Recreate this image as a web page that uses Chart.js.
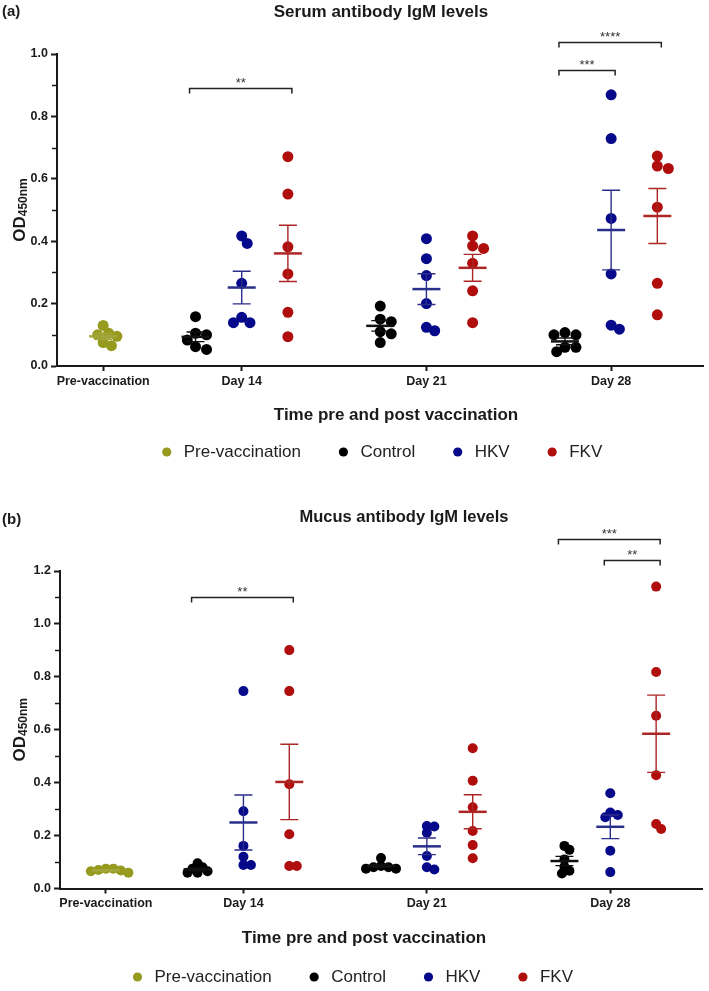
<!DOCTYPE html>
<html>
<head>
<meta charset="utf-8">
<script src="https://cdn.jsdelivr.net/npm/chart.js@4.4.1/dist/chart.umd.min.js"></script>
<style>
  html, body { margin: 0; padding: 0; background: #fff; }
  #wrap { position: relative; width: 709px; height: 991px; overflow: hidden; }
  .panel { position: absolute; left: 0; width: 709px; }
</style>
</head>
<body>
<div id="wrap">
  <div class="panel" style="top:0;height:485px"><canvas id="serum" width="709" height="485"></canvas></div>
  <div class="panel" style="top:485px;height:506px"><canvas id="mucus" width="709" height="506"></canvas></div>
</div>
<script>
var days = ['Pre-vaccination', 'Day 14', 'Day 21', 'Day 28'];
var groups = ['Pre-vaccination', 'Control', 'HKV', 'FKV'];

// serum IgM (OD450), 6 fish per group; one row per day (14, 21, 28)
var serumPre = [0.105, 0.095, 0.100, 0.130, 0.065, 0.075];
var serumControl = [
    [0.158, 0.105, 0.100, 0.083, 0.062, 0.053],
    [0.192, 0.150, 0.142, 0.110, 0.103, 0.075],
    [0.100, 0.100, 0.107, 0.060, 0.060, 0.046]
];
var serumHKV = [
    [0.393, 0.417, 0.265, 0.156, 0.139, 0.139],
    [0.408, 0.344, 0.290, 0.200, 0.113, 0.124],
    [0.869, 0.729, 0.473, 0.295, 0.118, 0.131]
];
var serumFKV = [
    [0.671, 0.551, 0.382, 0.295, 0.172, 0.094],
    [0.417, 0.385, 0.377, 0.329, 0.241, 0.139],
    [0.673, 0.641, 0.633, 0.509, 0.265, 0.164]
];

// mucus IgM (OD450)
var mucusPre = [0.070, 0.075, 0.065, 0.060, 0.075, 0.068];
var mucusControl = [
    [0.095, 0.080, 0.075, 0.060, 0.060, 0.065],
    [0.115, 0.085, 0.080, 0.075, 0.075, 0.080],
    [0.161, 0.146, 0.110, 0.082, 0.067, 0.057]
];
var mucusHKV = [
    [0.746, 0.292, 0.161, 0.120, 0.089, 0.089],
    [0.236, 0.234, 0.211, 0.123, 0.072, 0.080],
    [0.360, 0.287, 0.278, 0.269, 0.143, 0.062]
];
var mucusFKV = [
    [0.901, 0.746, 0.394, 0.205, 0.085, 0.085],
    [0.530, 0.407, 0.307, 0.217, 0.164, 0.114],
    [1.141, 0.818, 0.653, 0.428, 0.225, 0.244]
];

// significance brackets (day index, group from/to, height in OD, stars)
var serumSig = [
    {day: 1, from: 1, to: 3, y: 0.89, text: '**'},
    {day: 3, from: 1, to: 2, y: 0.95, text: '***'},
    {day: 3, from: 1, to: 3, y: 1.04, text: '****'}
];
var mucusSig = [
    {day: 1, from: 1, to: 3, y: 1.10, text: '**'},
    {day: 3, from: 2, to: 3, y: 1.24, text: '**'},
    {day: 3, from: 1, to: 3, y: 1.32, text: '***'}
];

var dayPos = [0, 3, 7, 11];
var groupShift = [0, -1, 0, 1];
var dotColors = ['#969a1f', '#000000', '#06098a', '#b00d0d'];
var barColors = ['#a3a63a', '#111111', '#2b2f8c', '#ad2626'];
var ink = '#1a1a1a';
var fam = '"Liberation Sans", Arial, sans-serif';

function meanSem(vals) {
    var n = vals.length, m = 0, s = 0;
    vals.forEach(function(v) { m += v; });
    m = m / n;
    vals.forEach(function(v) { s += (v - m) * (v - m); });
    return {mean: m, sem: Math.sqrt(s / (n - 1)) / Math.sqrt(n)};
}

var extras = {
    id: 'extras',
    afterDatasetsDraw: function(chart, args, o) {
        var ctx = chart.ctx, xs = chart.scales.x, ys = chart.scales.y, area = chart.chartArea;
        ctx.save();
        // minor ticks on y
        ctx.strokeStyle = ink;
        ctx.lineWidth = 1.5;
        for (var v = 0.1; v < ys.max; v += 0.2) {
            var yy = Math.round(ys.getPixelForValue(v)) + 0.5;
            ctx.beginPath();
            ctx.moveTo(area.left - 5, yy);
            ctx.lineTo(area.left - 1, yy);
            ctx.stroke();
        }
        // mean and SEM for every group / day
        o.series.forEach(function(rows, g) {
            rows.forEach(function(vals, k) {
                var d = g === 0 ? 0 : k + 1;
                var cx = xs.getPixelForValue(dayPos[d] + groupShift[g]);
                var ms = meanSem(vals);
                var ym = ys.getPixelForValue(ms.mean);
                var yh = ys.getPixelForValue(ms.mean + ms.sem);
                var yl = ys.getPixelForValue(ms.mean - ms.sem);
                ctx.strokeStyle = barColors[g];
                ctx.lineWidth = 1.4;
                ctx.beginPath();
                ctx.moveTo(cx, yh); ctx.lineTo(cx, yl);
                ctx.moveTo(cx - o.cap, yh); ctx.lineTo(cx + o.cap, yh);
                ctx.moveTo(cx - o.cap, yl); ctx.lineTo(cx + o.cap, yl);
                ctx.stroke();
                ctx.lineWidth = 2.5;
                ctx.beginPath();
                ctx.moveTo(cx - o.half, ym); ctx.lineTo(cx + o.half, ym);
                ctx.stroke();
            });
        });
        // significance brackets
        ctx.strokeStyle = '#222';
        ctx.fillStyle = '#333';
        ctx.lineWidth = 1.5;
        ctx.font = '13px ' + fam;
        ctx.textAlign = 'center';
        ctx.textBaseline = 'alphabetic';
        o.sig.forEach(function(b) {
            var x1 = xs.getPixelForValue(dayPos[b.day] + groupShift[b.from]) - 6;
            var x2 = xs.getPixelForValue(dayPos[b.day] + groupShift[b.to]) + 4;
            var y = Math.round(ys.getPixelForValue(b.y)) + 0.5;
            ctx.beginPath();
            ctx.moveTo(x1, y + 5); ctx.lineTo(x1, y); ctx.lineTo(x2, y); ctx.lineTo(x2, y + 5);
            ctx.stroke();
            ctx.fillText(b.text, (x1 + x2) / 2, y - 2);
        });
        ctx.restore();
    },
    afterDraw: function(chart, args, o) {
        var ctx = chart.ctx, area = chart.chartArea;
        ctx.save();
        ctx.fillStyle = ink;
        ctx.textBaseline = 'middle';
        ctx.font = 'bold 15px ' + fam;
        ctx.textAlign = 'left';
        ctx.fillText(o.panel, 2, o.panelY);
        ctx.textAlign = 'center';
        ctx.font = 'bold ' + o.titleSize + 'px ' + fam;
        ctx.fillText(o.title, o.titleX, o.titleY);
        ctx.font = 'bold 17px ' + fam;
        ctx.fillText('Time pre and post vaccination', o.xTitleX, o.xTitleY);
        // y title with subscript
        var cy = (area.top + area.bottom) / 2;
        ctx.translate(25, cy);
        ctx.rotate(-Math.PI / 2);
        ctx.textBaseline = 'alphabetic';
        ctx.textAlign = 'left';
        ctx.font = 'bold 17px ' + fam;
        var w1 = ctx.measureText('OD').width;
        ctx.font = 'bold 12px ' + fam;
        var w2 = ctx.measureText('450nm').width;
        var x0 = -(w1 + w2) / 2;
        ctx.font = 'bold 17px ' + fam;
        ctx.fillText('OD', x0, 0);
        ctx.font = 'bold 12px ' + fam;
        ctx.fillText('450nm', x0 + w1, 2);
        ctx.restore();
    }
};

// spread overlapping dots sideways, using the chart's own scales
function swarm(chart, r, gap) {
    var xs = chart.scales.x, ys = chart.scales.y;
    var minD = 2 * r * gap;
    chart.data.datasets.forEach(function(ds) {
        var byCenter = {};
        ds.data.forEach(function(p) {
            (byCenter[p.cx] = byCenter[p.cx] || []).push(p);
        });
        Object.keys(byCenter).forEach(function(k) {
            var pts = byCenter[k].slice().sort(function(a, b) { return b.y - a.y; });
            var cpx = xs.getPixelForValue(+k);
            var placed = [];
            pts.forEach(function(p) {
                var py = ys.getPixelForValue(p.y);
                var off = 0;
                for (var i = 0; i < 30; i++) {
                    var step = Math.ceil(i / 2) * r * 0.5 * (i % 2 ? 1 : -1);
                    var ok = placed.every(function(q) {
                        var dx = q.px - (cpx + step), dy = q.py - py;
                        return dx * dx + dy * dy >= minD * minD;
                    });
                    if (ok) { off = step; break; }
                }
                placed.push({px: cpx + off, py: py});
                p.x = xs.getValueForPixel(cpx + off);
            });
        });
    });
    chart.update('none');
}

function makeChart(id, series, sig, lay) {
    var datasets = groups.map(function(name, g) {
        var pts = [];
        series[g].forEach(function(vals, k) {
            var d = g === 0 ? 0 : k + 1;
            var cx = dayPos[d] + groupShift[g];
            vals.forEach(function(v) { pts.push({x: cx, y: v, cx: cx}); });
        });
        return {
            label: name,
            data: pts,
            backgroundColor: dotColors[g],
            borderColor: dotColors[g],
            borderWidth: 0,
            pointRadius: lay.r,
            pointHoverRadius: lay.r,
            pointStyle: 'circle'
        };
    });

    var tickFont = {family: fam, size: 12.5, weight: 'bold'};

    var chart = new Chart(document.getElementById(id), {
        type: 'scatter',
        data: {datasets: datasets},
        options: {
            responsive: false,
            animation: false,
            events: [],
            layout: {padding: lay.padding},
            scales: {
                x: {
                    type: 'linear',
                    min: -1,
                    max: 13,
                    afterBuildTicks: function(s) {
                        s.ticks = dayPos.map(function(v) { return {value: v}; });
                    },
                    afterFit: function(s) { s.height = lay.xh; },
                    ticks: {
                        autoSkip: false,
                        maxRotation: 0,
                        color: ink,
                        font: tickFont,
                        padding: 3,
                        callback: function(v) { return days[dayPos.indexOf(v)]; }
                    },
                    grid: {drawOnChartArea: false, drawTicks: true, tickLength: 5, tickWidth: 2, tickColor: ink},
                    border: {display: true, color: ink, width: 2}
                },
                y: {
                    min: 0,
                    max: lay.ymax,
                    afterFit: function(s) { s.width = lay.yw; },
                    ticks: {
                        stepSize: 0.2,
                        color: ink,
                        font: tickFont,
                        padding: 3,
                        callback: function(v) { return v.toFixed(1); }
                    },
                    grid: {drawOnChartArea: false, drawTicks: true, tickLength: 6, tickWidth: 2, tickColor: ink},
                    border: {display: true, color: ink, width: 2}
                }
            },
            plugins: {
                tooltip: {enabled: false},
                title: {display: false},
                legend: {
                    position: 'bottom',
                    fullSize: lay.legendFull,
                    labels: {
                        usePointStyle: true,
                        pointStyle: 'circle',
                        boxWidth: 17,
                        boxHeight: 6.5,
                        padding: 34,
                        color: '#222',
                        font: {family: fam, size: 17}
                    }
                },
                extras: {
                    series: series,
                    sig: sig,
                    cap: lay.cap,
                    half: lay.half,
                    panel: lay.panel,
                    panelY: lay.panelY,
                    title: lay.title,
                    titleSize: lay.titleSize,
                    titleX: lay.titleX,
                    titleY: lay.titleY,
                    xTitleX: lay.xTitleX,
                    xTitleY: lay.xTitleY
                }
            }
        },
        plugins: [extras]
    });
    swarm(chart, lay.r, lay.gap);
    return chart;
}

makeChart('serum', [[serumPre], serumControl, serumHKV, serumFKV], serumSig, {
    r: 5.5, gap: 0.8, cap: 9, half: 14, ymax: 1.0,
    padding: {top: 54, left: 0, right: 1, bottom: 14.5},
    xh: 43.5, yw: 57, legendFull: false,
    panel: '(a)', panelY: 12,
    title: 'Serum antibody IgM levels', titleSize: 17, titleX: 381, titleY: 12,
    xTitleX: 396, xTitleY: 415
});

makeChart('mucus', [[mucusPre], mucusControl, mucusHKV, mucusFKV], mucusSig, {
    r: 5, gap: 0.6, cap: 9, half: 14, ymax: 1.2,
    padding: {top: 86, left: 0, right: 7, bottom: -4.5},
    xh: 46, yw: 60, legendFull: true,
    panel: '(b)', panelY: 35,
    title: 'Mucus antibody IgM levels', titleSize: 16.5, titleX: 404, titleY: 32,
    xTitleX: 364, xTitleY: 453
});
</script>
</body>
</html>
